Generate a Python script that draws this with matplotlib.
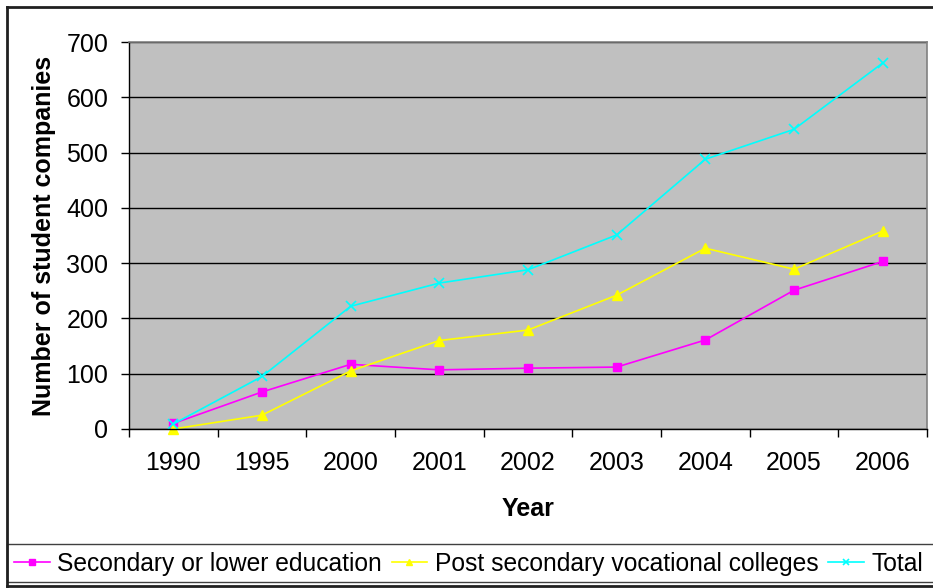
import matplotlib
matplotlib.use("Agg")
import matplotlib.pyplot as plt
from matplotlib.lines import Line2D
from matplotlib.patches import Rectangle

plt.rcParams['font.family'] = ['Liberation Sans', 'DejaVu Sans']

# Data
years = ["1990", "1995", "2000", "2001", "2002", "2003", "2004", "2005", "2006"]
secondary = [10, 67, 117, 107, 110, 112, 161, 251, 303]
post_secondary = [0, 25, 105, 160, 179, 242, 327, 289, 358]
total = [9, 95, 222, 264, 288, 351, 488, 542, 662]

yticks = [0, 100, 200, 300, 400, 500, 600, 700]

W, H = 933, 588
fig = plt.figure(figsize=(W / 100, H / 100), dpi=100)
ax = fig.add_axes([129 / W, 1 - 429 / H, (927 - 129) / W, (429 - 42) / H])
ax.set_facecolor("#C0C0C0")

x = list(range(len(years)))
ax.plot(x, secondary, color="#FF00FF", marker="s", markersize=5.8, lw=1.2,
        label="Secondary or lower education")
ax.plot(x, post_secondary, color="#FFFF00", marker="^", markersize=7.5, lw=1.2,
        label="Post secondary vocational colleges")
ax.plot(x, total, color="#00FFFF", marker="x", markersize=7, mew=1.2, lw=1.2,
        label="Total")
for l in ax.lines:
    l.set_clip_on(False)

ax.set_xlim(-0.5, len(years) - 0.5)
ax.set_ylim(0, 700)
ax.set_yticks(yticks)
ax.yaxis.grid(True, color="black", lw=1)
ax.set_axisbelow(True)

# category labels at centers, ticks at boundaries
ax.set_xticks(x)
ax.set_xticklabels(years)
ax.set_xticks([i - 0.5 for i in range(len(years) + 1)], minor=True)
ax.tick_params(axis="x", which="major", length=0, pad=16, labelsize=18)
ax.tick_params(axis="x", which="minor", length=6, width=1, direction="out")
ax.tick_params(axis="y", length=6, width=1, direction="out", pad=9, labelsize=18)

for s in ["top", "right"]:
    ax.spines[s].set_color("#808080")
    ax.spines[s].set_linewidth(1.2)
for s in ["left", "bottom"]:
    ax.spines[s].set_color("black")
    ax.spines[s].set_linewidth(1)

ax.set_ylabel("Number of student companies", fontsize=18, fontweight="bold")
ax.yaxis.set_label_coords(-0.092, 0.5)
ax.set_xlabel("Year", fontsize=18, fontweight="bold")
ax.xaxis.set_label_coords(0.5, -0.177)

# outer chart border and legend box
fig.add_artist(Line2D([7 / W, 1.0], [1 - 7 / H, 1 - 7 / H], color="#202020", lw=2,
                      transform=fig.transFigure))
fig.add_artist(Line2D([7 / W, 7 / W], [1 - 7 / H, 1 - 586 / H], color="#202020", lw=2,
                      transform=fig.transFigure))
fig.add_artist(Line2D([7 / W, 1.0], [1 - 586 / H, 1 - 586 / H], color="#202020", lw=2,
                      transform=fig.transFigure))
fig.add_artist(Rectangle((7 / W, 1 - 582 / H), 1.0, (582 - 544) / H, fill=False,
                         edgecolor="#404040", lw=1, transform=fig.transFigure))

handles, labels = ax.get_legend_handles_labels()
leg = fig.legend(handles, labels, loc="center left", bbox_to_anchor=(14 / W, 1 - 564 / H),
                 ncol=3, frameon=False, fontsize=17.7, handlelength=1.45,
                 handletextpad=0.3, columnspacing=0.4, borderaxespad=0, borderpad=0)
for h in leg.legend_handles:
    h.set_markersize(5)

fig.savefig("out.png", dpi=100)
